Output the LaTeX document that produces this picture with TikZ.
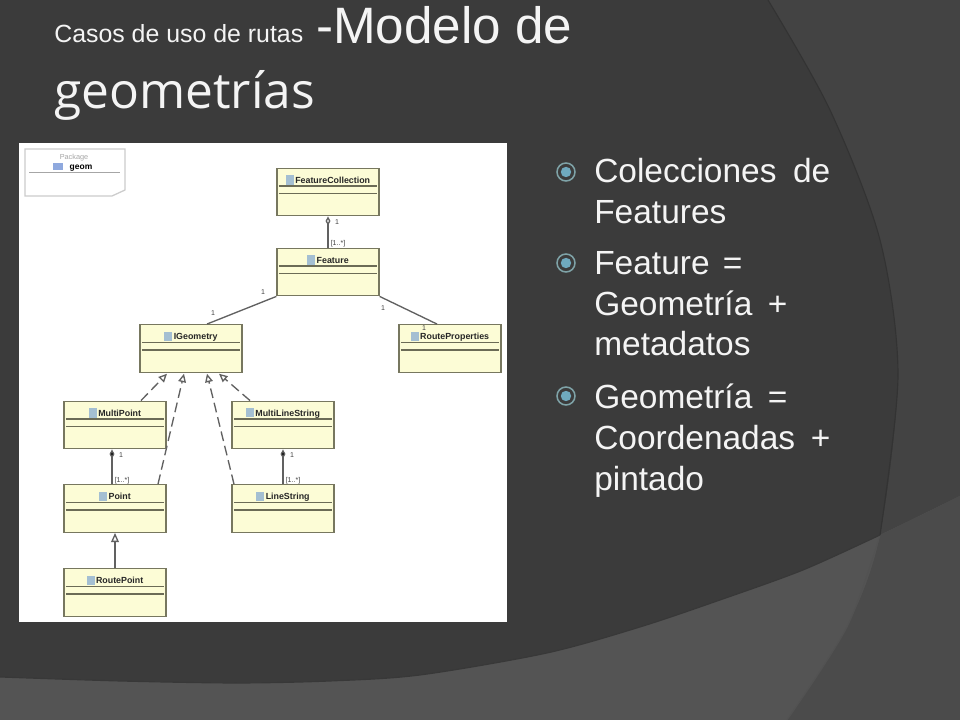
\documentclass[tikz,border=0pt]{standalone}
\usepackage{fontspec}
\setmainfont{Liberation Sans}
\newfontfamily\geomfont{Open Sans}
\usetikzlibrary{arrows.meta}
\definecolor{bgdark}{HTML}{3B3B3B}
\definecolor{bgright}{HTML}{434343}
\definecolor{bgbottom}{HTML}{545454}
\definecolor{bgcorner}{HTML}{4B4B4B}
\definecolor{classfill}{HTML}{FCFCD6}
\definecolor{classline}{HTML}{77775F}
\definecolor{iconblue}{HTML}{A4BFD2}
\definecolor{bulletring}{HTML}{7FA3A8}
\definecolor{bulletdot}{HTML}{6FA9BE}
\definecolor{textwhite}{HTML}{F4F4F4}
\tikzset{
  classbox/.style={draw=classline,fill=classfill,line width=.9pt,inner sep=0,minimum width=2.55cm,minimum height=1.19cm},
  classname/.style={inner sep=0,font=\fontsize{6.3}{7}\selectfont\bfseries,text=black!85},
  divider/.style={draw=classline!90!black,line width=.9pt},
  mult/.style={inner sep=0,font=\fontsize{5}{6}\selectfont,text=black!75},
  assoc/.style={draw=black!62,line width=.95pt},
  impl/.style={assoc,dash pattern=on 7pt off 3.5pt,-{Triangle[open,length=6pt,width=5.5pt]}},
  inherit/.style={assoc,-{Triangle[open,length=6.5pt,width=5.5pt]}},
  aggreg/.style={assoc,{Diamond[open,length=6.5pt,width=3.5pt]}-},
  compos/.style={assoc,{Diamond[fill=black,length=6.5pt,width=3.5pt]}-},
  titletext/.style={inner sep=0,anchor=base west,text=textwhite},
  bodytext/.style={inner sep=0,anchor=north west,align=left,text=textwhite,font=\fontsize{23.8}{29}\selectfont},
}
\newcommand{\fitline}[2]{\makebox[#1][s]{#2}}
\begin{document}
\begin{tikzpicture}[x=.025cm,y=-.025cm]
  \useasboundingbox (0,0) rectangle (960,720);

  % fondo
  \fill[bgdark] (0,0) rectangle (960,720);
  \fill[bgright] plot[smooth] coordinates {(768,0) (830,110) (880,240) (898,375) (880,535) (847,627) (787,720)} -- (960,720) -- (960,0) -- cycle;
  \fill[bgbottom] plot[smooth] coordinates {(0,677) (120,681) (236,683) (330,681) (420,675) (547,653) (640,627) (720,600) (803,570) (880,535) (960,496)} -- (960,720) -- (0,720) -- cycle;
  \begin{scope}
    \clip plot[smooth] coordinates {(0,677) (120,681) (236,683) (330,681) (420,675) (547,653) (640,627) (720,600) (803,570) (880,535) (960,496)} -- (960,720) -- (0,720) -- cycle;
    \fill[bgcorner] plot[smooth] coordinates {(768,0) (830,110) (880,240) (898,375) (880,535) (847,627) (787,720)} -- (960,720) -- (960,0) -- cycle;
    \draw[black!68,line width=.8pt] plot[smooth] coordinates {(880,535) (847,627) (787,720)};
  \end{scope}
  \draw[black!80,line width=.8pt] plot[smooth] coordinates {(768,0) (830,110) (880,240) (898,375) (880,535)};
  \draw[black!78,line width=.8pt] plot[smooth] coordinates {(0,677) (120,681) (236,683) (330,681) (420,675) (547,653) (640,627) (720,600) (803,570) (880,535)};

  % titulo
  \node[titletext,font=\fontsize{17.7}{20}\selectfont] (titleSmall) at (54,43) {Casos de uso de rutas};
  \node[titletext,font=\fontsize{36.4}{40}\selectfont] (titleBig) at (316,44) {-Modelo de};
  \node[titletext,font=\fontsize{35.3}{40}\selectfont\geomfont] (titleGeom) at (54,109) {geometrías};

  % panel blanco
  \fill[white] (19,143) rectangle (507,622);

  % paquete
  \draw[black!20,line width=.9pt] (25,149) -- (125,149) -- (125,190) -- (112,196) -- (25,196) -- cycle;
  \draw[black!35,line width=.7pt] (29,172) -- (120,172);
  \fill[cyan!45!blue!45] (53,163) rectangle (63,170);
  \node[inner sep=0,text=black!35,font=\fontsize{5.2}{6}\selectfont] (pkgLabel) at (74,158) {Package};
  \node[inner sep=0,font=\fontsize{6}{7}\selectfont\bfseries] (pkgName) at (81,168) {geom};

  % clases
  \foreach \name/\x/\y/\label in {
    featureCollection/328/192/FeatureCollection,
    feature/328/272/Feature,
    iGeometry/191/348.5/IGeometry,
    routeProperties/450/348.5/RouteProperties,
    multiPoint/115/425/MultiPoint,
    point/115/508.5/Point,
    routePoint/115/592.5/RoutePoint,
    multiLineString/283/425/MultiLineString,
    lineString/283/508.5/LineString} {
    \node[classbox] (\name) at (\x,\y) {};
    \node[classname] (\name Label) at ([yshift=-.31cm]\name.north) {\textcolor{iconblue}{\rule[-.9pt]{5.6pt}{6.6pt}}\,\label};
    \draw[divider] ([xshift=.06cm,yshift=-.46cm]\name.north west) -- ([xshift=-.06cm,yshift=-.46cm]\name.north east);
    \draw[divider] ([xshift=.06cm,yshift=-.65cm]\name.north west) -- ([xshift=-.06cm,yshift=-.65cm]\name.north east);
  }

  % relaciones
  \draw[aggreg] (featureCollection.south) -- (feature.north);
  \draw[assoc] (feature.south west) -- ([xshift=.4cm]iGeometry.north);
  \draw[assoc] (feature.south east) -- ([xshift=-.325cm]routeProperties.north);
  \draw[impl] ([xshift=.65cm]multiPoint.north) -- ([xshift=-.6cm,yshift=-.02cm]iGeometry.south);
  \draw[impl] ([xshift=1.075cm]point.north) -- ([xshift=-.175cm,yshift=-.02cm]iGeometry.south);
  \draw[impl] ([xshift=-1.225cm]lineString.north) -- ([xshift=.4cm,yshift=-.02cm]iGeometry.south);
  \draw[impl] ([xshift=-.825cm]multiLineString.north) -- ([xshift=.7cm,yshift=-.02cm]iGeometry.south);
  \draw[compos] ([xshift=-.075cm]multiPoint.south) -- ([xshift=-.075cm]point.north);
  \draw[compos] (multiLineString.south) -- (lineString.north);
  \draw[inherit] (routePoint.north) -- (point.south);

  % multiplicidades
  \node[mult] (multA) at (337,222) {1};
  \node[mult] (multB) at (338,244) {[1..*]};
  \node[mult] (multC) at (213,313) {1};
  \node[mult] (multD) at (263,292) {1};
  \node[mult] (multE) at (383,308) {1};
  \node[mult] (multF) at (424,328) {1};
  \node[mult] (multG) at (121,455) {1};
  \node[mult] (multH) at (122,481) {[1..*]};
  \node[mult] (multI) at (292,455) {1};
  \node[mult] (multJ) at (293,481) {[1..*]};

  % lista
  \foreach \n/\y in {1/172,2/263,3/396} {
    \node[circle,draw=bulletring,line width=1.1pt,inner sep=0,minimum size=.45cm] (ring\n) at (566,\y) {};
    \node[circle,fill=bulletdot,inner sep=0,minimum size=.26cm] (dot\n) at (ring\n) {};
  }
  \node[bodytext] (itemA) at (594,158) {\fitline{5.9cm}{Colecciones\hfill de}\\Features};
  \node[bodytext] (itemB) at (594,251) {\fitline{3.7cm}{Feature\hfill =}\\\fitline{4.825cm}{Geometría\hfill +}\\metadatos};
  \node[bodytext] (itemC) at (594,384) {\fitline{4.825cm}{Geometría\hfill =}\\\fitline{5.9cm}{Coordenadas\hfill +}\\pintado};
\end{tikzpicture}
\end{document}
